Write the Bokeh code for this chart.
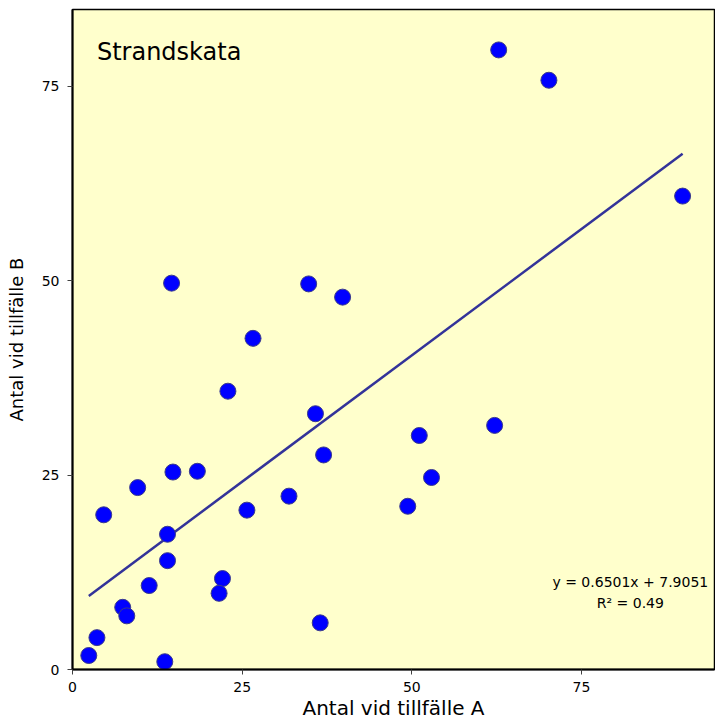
from bokeh.plotting import figure
from bokeh.models import FixedTicker, Range1d, Label
from bokeh.embed import file_html
from bokeh.resources import INLINE

# Data
count_a = [2.4, 3.6, 7.4, 8.0, 4.6, 9.6, 14.0, 14.0, 11.3, 13.6, 22.1, 21.6, 25.7, 31.9,
           14.8, 18.4, 14.6, 26.6, 22.9, 34.8, 39.8, 35.8, 37.0, 51.1, 62.2, 52.9, 49.4,
           36.5, 62.8, 70.2, 89.9]
count_b = [1.8, 4.1, 8.0, 6.9, 19.9, 23.4, 17.4, 14.0, 10.8, 1.0, 11.7, 9.8, 20.5, 22.3,
           25.4, 25.5, 49.7, 42.6, 35.8, 49.6, 47.9, 32.9, 27.6, 30.1, 31.4, 24.7, 21.0,
           6.0, 79.7, 75.8, 60.9]
slope = 0.6501
intercept = 7.9051
r_squared = 0.49
x_ticks = [0, 25, 50, 75]
y_ticks = [0, 25, 50, 75]
title_text = "Strandskata"
x_label = "Antal vid tillfälle A"
y_label = "Antal vid tillfälle B"

FONT = "DejaVu Sans"

p = figure(frame_width=642, frame_height=660, output_backend="svg", toolbar_location=None,
           x_range=Range1d(0, 94.6), y_range=Range1d(0, 84.9),
           min_border_left=72, min_border_right=1, min_border_top=9, min_border_bottom=53)
p.background_fill_color = "#FFFFCC"
p.border_fill_color = "white"
p.outline_line_color = "black"
p.outline_line_width = 1.5
p.xgrid.visible = False
p.ygrid.visible = False

for ax, ticks in ((p.xaxis, x_ticks), (p.yaxis, y_ticks)):
    ax.ticker = FixedTicker(ticks=ticks)
    ax.axis_line_color = "black"
    ax.axis_line_width = 2
    ax.major_tick_line_color = "#404040"
    ax.major_tick_in = 0
    ax.major_tick_out = 5
    ax.minor_tick_line_color = None
    ax.major_label_text_font = FONT
    ax.major_label_text_font_size = "14px"
    ax.major_label_text_color = "black"
    ax.axis_label_text_font = FONT
    ax.axis_label_text_font_style = "normal"
    ax.axis_label_text_color = "black"

p.xaxis.axis_label = x_label
p.yaxis.axis_label = y_label
p.xaxis.axis_label_text_font_size = "20px"
p.yaxis.axis_label_text_font_size = "18px"
p.xaxis.major_label_standoff = 7
p.xaxis.axis_label_standoff = 1
p.yaxis.major_label_standoff = 8
p.yaxis.axis_label_standoff = 12

# trend line
x0, x1 = min(count_a), max(count_a)
p.line([x0, x1], [slope * x0 + intercept, slope * x1 + intercept],
       line_color="#333399", line_width=2.5)

p.scatter(count_a, count_b, size=16, fill_color="#0000FF", line_color="#3A3A8C", line_width=1)

p.add_layout(Label(x=3.6, y=79.4, text=title_text, text_font=FONT, text_font_size="24px",
                   text_color="black", text_baseline="alphabetic"))
p.add_layout(Label(x=82.2, y=11.3, text=f"y = {slope:.4f}x + {intercept:.4f}", text_font=FONT,
                   text_font_size="14px", text_color="black", text_align="center",
                   text_baseline="alphabetic"))
p.add_layout(Label(x=82.2, y=8.5, text=f"R² = {r_squared:.2f}", text_font=FONT,
                   text_font_size="14px", text_color="black", text_align="center",
                   text_baseline="alphabetic"))

open("out.html", "w").write(file_html(p, INLINE))
